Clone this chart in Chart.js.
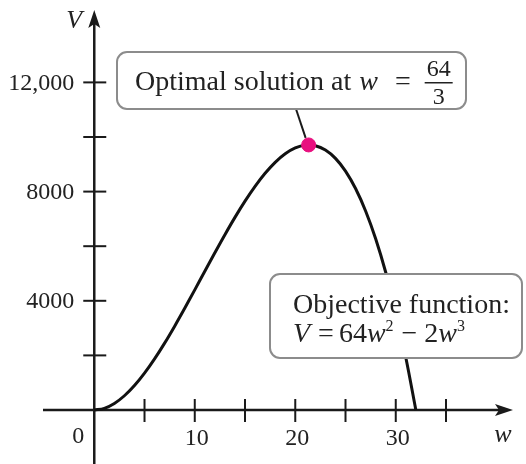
<!DOCTYPE html>
<html>
<head>
<meta charset="utf-8">
<script src="https://cdn.jsdelivr.net/npm/chart.js@4"></script>
<style>
  html, body { margin: 0; padding: 0; background: #fff; }
  #wrap { width: 526px; height: 464px; }
</style>
</head>
<body>
<div id="wrap"><canvas id="chart" width="526" height="464"></canvas></div>
<script>
// curve V = 64w^2 - 2w^3 read at whole w
var wValues = [0,1,2,3,4,5,6,7,8,9,10,11,12,13,14,15,16,17,18,19,20,21,22,23,24,25,26,27,28,29,30,31,32];
var vValues = [0,62,240,522,896,1350,1872,2450,3072,3726,4400,5082,5760,6422,7056,7650,8192,8670,9072,9386,9600,9702,9680,9522,9216,8750,8112,7290,6272,5046,3600,1922,0];
var optW = [21.33];
var optV = [9709];
var xTicks = [5,10,15,20,25,30,35];
var xTickLabels = ["", "10", "", "20", "", "30", ""];
var yTicks = [2000,4000,6000,8000,10000,12000];
var yTickLabels = ["", "4000", "", "8000", "", "12,000"];

var serif = "'Liberation Serif', 'DejaVu Serif', serif";

function roundBox(ctx, x, y, w, h, r){
    ctx.beginPath();
    ctx.moveTo(x+r, y);
    ctx.lineTo(x+w-r, y);
    ctx.arcTo(x+w, y, x+w, y+r, r);
    ctx.lineTo(x+w, y+h-r);
    ctx.arcTo(x+w, y+h, x+w-r, y+h, r);
    ctx.lineTo(x+r, y+h);
    ctx.arcTo(x, y+h, x, y+h-r, r);
    ctx.lineTo(x, y+r);
    ctx.arcTo(x, y, x+r, y, r);
    ctx.closePath();
    ctx.fillStyle = "#fff";
    ctx.fill();
    ctx.strokeStyle = "#8c8c8c";
    ctx.lineWidth = 2;
    ctx.stroke();
}

// writes pieces one after another, returns end x
function runText(ctx, parts, x, y){
    for (var i = 0; i < parts.length; i++) {
        var p = parts[i];
        ctx.font = p.f;
        ctx.fillText(p.t, x, y + (p.dy || 0));
        x += ctx.measureText(p.t).width + (p.gap || 0);
    }
    return x;
}

var axesPlugin = {
    id: "axesPlugin",
    beforeDatasetsDraw: function(chart){
        var ctx = chart.ctx;
        var sx = chart.scales.x, sy = chart.scales.y;
        var x0 = sx.getPixelForValue(0), y0 = sy.getPixelForValue(0);
        ctx.save();
        ctx.strokeStyle = "#1a1a1a";
        ctx.fillStyle = "#1a1a1a";
        ctx.lineWidth = 2.5;
        // x axis
        ctx.beginPath();
        ctx.moveTo(43, y0);
        ctx.lineTo(505, y0);
        ctx.stroke();
        ctx.beginPath();
        ctx.moveTo(513, y0);
        ctx.lineTo(495, y0-6);
        ctx.lineTo(499, y0);
        ctx.lineTo(495, y0+6);
        ctx.closePath();
        ctx.fill();
        // y axis
        ctx.beginPath();
        ctx.moveTo(x0, 464);
        ctx.lineTo(x0, 22);
        ctx.stroke();
        ctx.beginPath();
        ctx.moveTo(x0, 10);
        ctx.lineTo(x0-6, 28);
        ctx.lineTo(x0, 24);
        ctx.lineTo(x0+6, 28);
        ctx.closePath();
        ctx.fill();
        // ticks
        ctx.lineWidth = 2;
        ctx.font = "24px " + serif;
        ctx.fillStyle = "#222";
        ctx.textAlign = "center";
        ctx.textBaseline = "middle";
        for (var i = 0; i < xTicks.length; i++) {
            var px = sx.getPixelForValue(xTicks[i]);
            ctx.beginPath();
            ctx.moveTo(px, y0-11);
            ctx.lineTo(px, y0+12);
            ctx.stroke();
            if (xTickLabels[i] != "") ctx.fillText(xTickLabels[i], px+2, y0+29);
        }
        ctx.textAlign = "right";
        for (var j = 0; j < yTicks.length; j++) {
            var py = sy.getPixelForValue(yTicks[j]);
            ctx.beginPath();
            ctx.moveTo(x0-11, py);
            ctx.lineTo(x0+12, py);
            ctx.stroke();
            if (yTickLabels[j] != "") ctx.fillText(yTickLabels[j], x0-20, py+1);
        }
        ctx.fillText("0", x0-10, y0+27);
        ctx.font = "italic 26px " + serif;
        ctx.textAlign = "center";
        ctx.fillText("V", x0-20, 21);
        ctx.fillText("w", 503, y0+25);
        ctx.restore();
    },
    afterDatasetsDraw: function(chart){
        var ctx = chart.ctx;
        var sx = chart.scales.x, sy = chart.scales.y;
        var roman = "28px " + serif, ital = "italic 28px " + serif, sup = "16px " + serif;
        ctx.save();
        // leader line to optimum
        var ox = sx.getPixelForValue(optW[0]), oy = sy.getPixelForValue(optV[0]);
        ctx.strokeStyle = "#1a1a1a";
        ctx.lineWidth = 2;
        ctx.beginPath();
        ctx.moveTo(296, 109);
        ctx.lineTo(ox-3, oy-7);
        ctx.stroke();

        // box 1
        roundBox(ctx, 117, 52, 349, 57, 10);
        ctx.fillStyle = "#222";
        ctx.textBaseline = "alphabetic";
        ctx.textAlign = "left";
        var cx = runText(ctx, [
            {t: "Optimal solution at", f: roman, gap: 8},
            {t: "w", f: ital, gap: 17},
            {t: "=", f: roman, gap: 15}
        ], 135, 90);
        ctx.font = "24px " + serif;
        ctx.textAlign = "center";
        ctx.fillText("64", cx + 13, 76);
        ctx.fillText("3", cx + 13, 104);
        ctx.fillRect(cx - 1, 82, 28, 1.5);

        // box 2
        roundBox(ctx, 270, 274, 252, 84, 10);
        ctx.fillStyle = "#222";
        ctx.textAlign = "left";
        ctx.font = roman;
        ctx.fillText("Objective function:", 293, 313);
        runText(ctx, [
            {t: "V", f: ital, gap: 8},
            {t: "=", f: roman, gap: 5},
            {t: "64", f: roman},
            {t: "w", f: ital},
            {t: "2", f: sup, dy: -11, gap: 8},
            {t: "\u2212", f: roman, gap: 7},
            {t: "2", f: roman},
            {t: "w", f: ital},
            {t: "3", f: sup, dy: -11}
        ], 293, 342);
        ctx.restore();
    }
};

var ctx_chart = document.getElementById("chart").getContext("2d");
var chart = new Chart(ctx_chart, {
    type: "scatter",
    data: {
        datasets: [{
            label: "Optimum",
            data: optW.map(function(w, i){ return {x: w, y: optV[i]}; }),
            pointRadius: 7,
            pointBackgroundColor: "#e8107f",
            pointBorderColor: "#e8107f",
            showLine: false
        }, {
            label: "V",
            data: wValues.map(function(w, i){ return {x: w, y: vValues[i]}; }),
            showLine: true,
            borderColor: "#111",
            borderWidth: 3,
            pointRadius: 0,
            tension: 0.35,
            fill: false
        }]
    },
    options: {
        responsive: false,
        animation: false,
        maintainAspectRatio: false,
        layout: { padding: 0, autoPadding: false },
        plugins: {
            legend: { display: false },
            tooltip: { enabled: false }
        },
        scales: {
            x: { type: "linear", display: false, min: -9.38, max: 42.96 },
            y: { type: "linear", display: false, min: -1978, max: 15018 }
        }
    },
    plugins: [axesPlugin]
});
</script>
</body>
</html>
